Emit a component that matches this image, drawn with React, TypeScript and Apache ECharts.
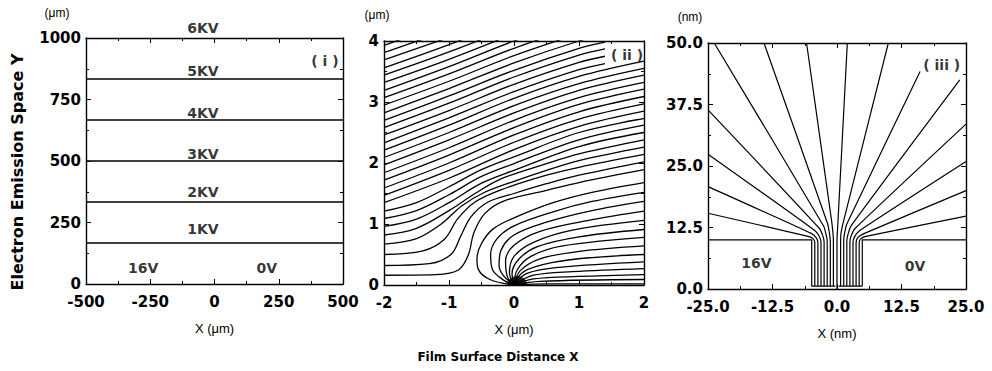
import React, { useEffect, useRef } from 'react';
import * as echarts from 'echarts';

// ---------- Panel (i): uniform field, equipotential levels (μm) ----------
const P1_LEVELS = [167, 333, 500, 667, 833];
const P1_LABEL_TEXT = ['6KV', '5KV', '4KV', '3KV', '2KV', '1KV', '16V', '0V', '( i )'];
const P1_LABEL_X = [-45, -45, -45, -45, -45, -45, -278, 203, 430];
const P1_LABEL_Y = [1040, 867, 694, 528, 375, 222, 65, 65, 905];

// ---------- Panel (ii): equipotentials coming from the left edge ----------
const P2_LEFT_LINES: number[][][] = [
  [[-2, 0.16], [-1.2, 0.17], [-0.85, 0.25], [-0.7, 0.5], [-0.62, 0.85], [-0.45, 1.17], [-0.15, 1.38], [0.5, 1.55], [1, 1.68], [2, 1.89]],
  [[-2, 0.32], [-1.3, 0.35], [-0.97, 0.5], [-0.82, 0.8], [-0.66, 1.12], [-0.4, 1.36], [0, 1.5], [0.5, 1.66], [1, 1.8], [2, 2.02]],
  [[-2, 0.5], [-1.4, 0.56], [-1.07, 0.75], [-0.87, 1.08], [-0.6, 1.36], [-0.2, 1.56], [0.5, 1.8], [1, 1.93], [2, 2.14]],
  [[-2, 0.67], [-1.5, 0.76], [-1.12, 1.0], [-0.8, 1.3], [-0.45, 1.52], [0, 1.7], [0.5, 1.88], [1, 2.04], [2, 2.26]],
  [[-2, 0.82], [-1.5, 0.93], [-1, 1.22], [-0.6, 1.5], [-0.2, 1.74], [0.5, 1.99], [1, 2.15], [2, 2.38]],
  [[-2, 0.96], [-1.5, 1.08], [-1, 1.35], [-0.5, 1.67], [0, 1.88], [1, 2.27], [2, 2.5]],
  [[-2, 1.09], [-1.5, 1.22], [-1, 1.48], [-0.5, 1.78], [0, 1.99], [1, 2.38], [2, 2.62]],
  [[-2, 1.21], [-1.5, 1.35], [-1, 1.61], [-0.5, 1.89], [0, 2.1], [1, 2.5], [2, 2.73]],
  [[-2, 1.35], [-1, 1.75], [0, 2.22], [1, 2.6], [2, 2.85]],
  [[-2, 1.47], [-1, 1.88], [0, 2.34], [1, 2.72], [2, 2.97]],
  [[-2, 1.59], [-1, 2.0], [0, 2.46], [1, 2.84], [2, 3.09]],
  [[-2, 1.72], [-1, 2.13], [0, 2.58], [1, 2.96], [2, 3.21]],
  [[-2, 1.84], [-1, 2.25], [0, 2.7], [1, 3.07], [2, 3.32]],
  [[-2, 1.97], [-1, 2.38], [0, 2.82], [1, 3.19], [2, 3.44]],
  [[-2, 2.09], [-1, 2.5], [0, 2.94], [1, 3.3], [2, 3.55]],
  [[-2, 2.21], [-1, 2.62], [0, 3.06], [1, 3.42], [2, 3.67]],
  [[-2, 2.33], [-1, 2.74], [0, 3.17], [1, 3.53], [1.4, 3.63]],
  [[-2, 2.46], [-1, 2.86], [0, 3.29], [1, 3.65], [1.4, 3.75]],
  [[-2, 2.58], [-1, 2.98], [0, 3.41], [1, 3.77], [1.4, 3.87]],
  [[-2, 2.7], [-1, 3.1], [0, 3.52], [1, 3.88], [1.4, 3.98]],
  [[-2, 2.82], [-1, 3.22], [0, 3.64], [1, 4.0], [1.4, 4.1]],
  [[-2, 2.95], [-1, 3.34], [0, 3.76], [1, 4.12]],
  [[-2, 3.07], [-1, 3.46], [0, 3.88], [1, 4.24]],
  [[-2, 3.19], [-1, 3.58], [0, 4.0], [1, 4.36]],
  [[-2, 3.32], [-1, 3.7], [0, 4.12]],
  [[-2, 3.44], [-1, 3.82], [0, 4.24]],
  [[-2, 3.56], [-1, 3.94], [0, 4.36]],
  [[-2, 3.69], [-1, 4.06]],
  [[-2, 3.81], [-1, 4.18]],
  [[-2, 3.93], [-1, 4.3]],
];

// ---------- Panel (ii): equipotentials fanning out of the gap at the origin ----------
const P2_ORIGIN_LINES: number[][][] = [
  [[0, 0], [-0.37, 0.09], [-0.55, 0.26], [-0.57, 0.43], [-0.5, 0.68], [-0.32, 0.92], [0, 1.1], [0.6, 1.35], [1.2, 1.52], [2, 1.68]],
  [[0, 0], [-0.16, 0.08], [-0.33, 0.25], [-0.36, 0.5], [-0.26, 0.76], [0, 0.97], [0.6, 1.2], [1.2, 1.37], [2, 1.52]],
  [[0, 0], [-0.16, 0.15], [-0.23, 0.32], [-0.2, 0.57], [0, 0.82], [0.5, 1.03], [1.2, 1.22], [2, 1.37]],
  [[0, 0], [-0.1, 0.13], [-0.13, 0.39], [0, 0.65], [0.4, 0.88], [1.2, 1.07], [2, 1.21]],
  [[0, 0], [-0.07, 0.2], [0, 0.47], [0.3, 0.7], [0.9, 0.9], [2, 1.06]],
  [[0, 0], [-0.03, 0.19], [0.08, 0.43], [0.36, 0.63], [1, 0.79], [2, 0.91]],
  [[0, 0], [0.05, 0.25], [0.26, 0.47], [0.75, 0.64], [2, 0.78]],
  [[0, 0], [0.1, 0.24], [0.4, 0.43], [1, 0.55], [2, 0.64]],
  [[0, 0], [0.15, 0.22], [0.6, 0.37], [1.2, 0.45], [2, 0.5]],
  [[0, 0], [0.2, 0.19], [0.7, 0.29], [2, 0.38]],
  [[0, 0], [0.3, 0.16], [0.9, 0.22], [2, 0.27]],
  [[0, 0], [0.3, 0.1], [1, 0.14], [2, 0.17]],
  [[0, 0], [0.4, 0.06], [2, 0.09]],
  [[0, 0], [0.5, 0.02], [2, 0.02]],
];
const P2_GAP_POINT = [[0.05, 0]];
const P2_LABEL_TEXT = ['( ii )'];
const P2_LABEL_X = [1.74];
const P2_LABEL_Y = [3.77];

// ---------- Panel (iii): nano-gap (nm) ----------
const P3_ELECTRODES: number[][][] = [
  [[-25, 10], [-4.9, 10], [-4.9, 0.6], [-0.3, 0.6]],
  [[0.3, 0.6], [4.9, 0.6], [4.9, 10], [25, 10]],
];
const P3_FAN_LINES: number[][][] = [
  [[-4.3, 0.6], [-4.3, 9.4], [-4.6, 10.2], [-5.6, 10.7], [-25, 15.4]],
  [[-3.7, 0.6], [-3.7, 9.4], [-4.0, 10.4], [-5.0, 11.3], [-25, 20.8]],
  [[-3.1, 0.6], [-3.1, 9.5], [-3.4, 10.6], [-4.2, 11.8], [-25, 27.4]],
  [[-2.5, 0.6], [-2.5, 9.6], [-2.75, 10.8], [-3.4, 12.3], [-25, 36.4]],
  [[-1.9, 0.6], [-1.9, 9.7], [-2.1, 11], [-2.6, 12.8], [-23.8, 50]],
  [[-1.3, 0.6], [-1.3, 9.8], [-1.45, 11.2], [-1.8, 13.2], [-14.15, 50]],
  [[-0.7, 0.6], [-0.7, 10], [-0.8, 11.5], [-1.0, 13.5], [-5.9, 50]],
  [[0, 0], [0, 10], [0.1, 12], [2.0, 50]],
  [[0.7, 0.6], [0.7, 10], [0.8, 11.5], [1.2, 13.5], [9.95, 50]],
  [[1.3, 0.6], [1.3, 9.8], [1.45, 11.2], [1.9, 13.2], [16.1, 44.2]],
  [[1.9, 0.6], [1.9, 9.7], [2.1, 11], [2.7, 12.8], [23.8, 42.5]],
  [[2.5, 0.6], [2.5, 9.6], [2.75, 10.8], [3.5, 12.3], [25, 33.5]],
  [[3.1, 0.6], [3.1, 9.5], [3.4, 10.6], [4.3, 11.8], [25, 25.9]],
  [[3.7, 0.6], [3.7, 9.4], [4.0, 10.4], [5.1, 11.2], [25, 20.0]],
  [[4.3, 0.6], [4.3, 9.4], [4.6, 10.2], [5.6, 10.7], [25, 14.8]],
];
const P3_LABEL_TEXT = ['16V', '0V', '( iii )'];
const P3_LABEL_X = [-15.6, 15.1, 20.3];
const P3_LABEL_Y = [5.2, 4.6, 45.5];

// ---------- Axis settings ----------
const X_MIN = [-500, -2, -25];
const X_MAX = [500, 2, 25];
const X_STEP = [250, 1, 12.5];
const Y_MIN = [0, 0, 0];
const Y_MAX = [1000, 4, 50];
const Y_STEP = [250, 1, 12.5];
const X_NAMES = ['X (μm)', 'X (μm)', 'X (nm)'];

const BOLD = '"DejaVu Sans", sans-serif';
const PLAIN = '"Liberation Sans", Arial, sans-serif';

function fmt(g: number) {
  return (v: number) => (g === 2 ? v.toFixed(1) : String(v));
}

function buildOption() {
  const grid = [
    { left: 86, top: 38, width: 257, height: 246 },
    { left: 384, top: 41, width: 260, height: 244 },
    { left: 708, top: 43, width: 258, height: 246 },
  ];
  const axisLine = { show: true, onZero: false, lineStyle: { color: '#000', width: 1.4 } };
  const axisTick = { show: true, inside: true, length: 5, lineStyle: { color: '#000', width: 1 } };
  const minorTick = { show: true, splitNumber: 2, length: 3, lineStyle: { color: '#000', width: 1 } };
  const labelStyle = { fontFamily: BOLD, fontWeight: 'bold', fontSize: 15, lineHeight: 15, color: '#000' };

  const xAxis: any[] = [];
  const yAxis: any[] = [];
  for (let g = 0; g < 3; g++) {
    for (const pos of ['bottom', 'top']) {
      xAxis.push({
        type: 'value', gridIndex: g, position: pos, min: X_MIN[g], max: X_MAX[g], interval: X_STEP[g],
        axisLine, axisTick, minorTick, splitLine: { show: false },
        axisLabel: pos === 'bottom' ? { ...labelStyle, margin: 10, formatter: fmt(g) } : { show: false },
        name: pos === 'bottom' ? X_NAMES[g] : '',
        nameLocation: 'middle', nameGap: 38,
        nameTextStyle: { fontFamily: PLAIN, fontSize: 13, color: '#000' },
      });
    }
    for (const pos of ['left', 'right']) {
      yAxis.push({
        type: 'value', gridIndex: g, position: pos, min: Y_MIN[g], max: Y_MAX[g], interval: Y_STEP[g],
        axisLine, axisTick, minorTick, splitLine: { show: false },
        axisLabel: pos === 'left' ? { ...labelStyle, margin: 5, formatter: fmt(g) } : { show: false },
      });
    }
  }

  const series: any[] = [];
  const line = (data: number[][], g: number, width: number, smooth: number | boolean) => ({
    type: 'line', data, xAxisIndex: 2 * g, yAxisIndex: 2 * g, symbol: 'none', showSymbol: false,
    smooth, clip: true, silent: true, lineStyle: { color: '#000', width }, z: 2,
  });
  const labels = (texts: string[], xs: number[], ys: number[], g: number, size: number) => ({
    type: 'scatter', xAxisIndex: 2 * g, yAxisIndex: 2 * g, clip: false, silent: true,
    symbolSize: 1, itemStyle: { color: 'rgba(0,0,0,0)' },
    data: texts.map((t, i) => ({ name: t, value: [xs[i], ys[i]] })),
    label: { show: true, position: 'inside', formatter: '{b}', fontFamily: BOLD, fontWeight: 'bold', fontSize: size, color: '#000' },
    z: 5,
  });

  // panel i
  P1_LEVELS.forEach((lv) => series.push(line([[X_MIN[0], lv], [X_MAX[0], lv]], 0, 1.5, false)));
  series.push(labels(P1_LABEL_TEXT, P1_LABEL_X, P1_LABEL_Y, 0, 14));

  // panel ii
  P2_LEFT_LINES.forEach((l) => series.push(line(l, 1, 1.3, 0.35)));
  P2_ORIGIN_LINES.forEach((l) => series.push(line(l, 1, 1.3, 0.35)));
  series.push({
    type: 'scatter', xAxisIndex: 2, yAxisIndex: 2, silent: true, data: P2_GAP_POINT,
    symbol: 'path://M0 10 A10 10 0 0 1 20 10 Z', symbolSize: [20, 9], symbolOffset: [0, -4.5],
    itemStyle: { color: '#000' }, z: 3,
  });
  series.push(labels(P2_LABEL_TEXT, P2_LABEL_X, P2_LABEL_Y, 1, 14));

  // panel iii
  P3_ELECTRODES.forEach((l) => series.push(line(l, 2, 1.2, false)));
  P3_FAN_LINES.forEach((l) => series.push(line(l, 2, 1.2, 0.2)));
  series.push(labels(P3_LABEL_TEXT, P3_LABEL_X, P3_LABEL_Y, 2, 14));

  const unit = (text: string, x: number, y: number) => ({
    type: 'text', x, y, style: { text, font: `12px ${PLAIN}`, fill: '#000', textAlign: 'center', textVerticalAlign: 'middle' },
  });
  const graphic = [
    unit('(μm)', 57, 13),
    unit('(μm)', 377, 15),
    unit('(nm)', 690, 17),
    { type: 'text', x: 17, y: 172, rotation: Math.PI / 2, style: { text: 'Electron Emission Space Y', font: `bold 16px ${BOLD}`, fill: '#000', textAlign: 'center', textVerticalAlign: 'middle' } },
    { type: 'text', x: 498, y: 357, style: { text: 'Film Surface Distance X', font: `bold 12px ${BOLD}`, fill: '#000', textAlign: 'center', textVerticalAlign: 'middle' } },
  ];

  return { animation: false, backgroundColor: '#fff', grid, xAxis, yAxis, series, graphic };
}

export default function App() {
  const ref = useRef<HTMLDivElement>(null);
  useEffect(() => {
    if (!ref.current) return;
    const chart = echarts.init(ref.current, null, { renderer: 'svg' });
    chart.setOption(buildOption() as any);
    return () => chart.dispose();
  }, []);
  return <div ref={ref} style={{ position: 'fixed', left: 0, top: 0, width: 992, height: 371, background: '#fff' }} />;
}
